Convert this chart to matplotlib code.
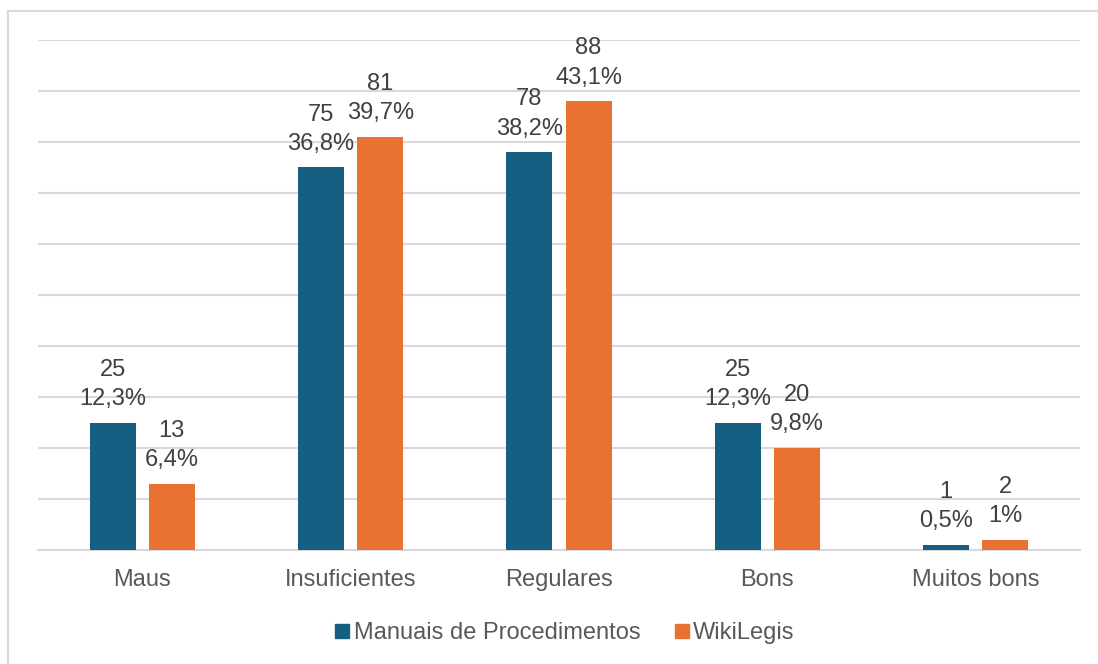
import matplotlib.pyplot as plt
import numpy as np
from matplotlib.lines import Line2D

# ── Data ─────────────────────────────────────────────────────────
categories = ["Maus", "Insuficientes", "Regulares", "Bons", "Muitos bons"]
manuais = [25, 75, 78, 25, 1]
manuais_pct = ["12,3%", "36,8%", "38,2%", "12,3%", "0,5%"]
wikilegis = [13, 81, 88, 20, 2]
wikilegis_pct = ["6,4%", "39,7%", "43,1%", "9,8%", "1%"]
series_names = ["Manuais de Procedimentos", "WikiLegis"]

# ── Style ────────────────────────────────────────────────────────
BLUE = "#156082"
ORANGE = "#E97132"
GRID = "#D9D9D9"
TICK_TXT = "#595959"
LABEL_TXT = "#404040"
FONT = "Liberation Sans"
FS = 17

plt.rcParams["font.family"] = [FONT, "DejaVu Sans"]

W, H = 1098, 664
fig = plt.figure(figsize=(W / 100, H / 100), dpi=100)
ax = fig.add_axes([38 / W, 1 - 550 / H, (1080 - 38) / W, (550 - 40) / H])

x = np.arange(len(categories))
bw = 0.22
off = 0.142

b1 = ax.bar(x - off, manuais, bw, color=BLUE, zorder=3)
b2 = ax.bar(x + off, wikilegis, bw, color=ORANGE, zorder=3)

for bars, vals, pcts in [(b1, manuais, manuais_pct), (b2, wikilegis, wikilegis_pct)]:
    for rect, v, p in zip(bars, vals, pcts):
        cx = rect.get_x() + rect.get_width() / 2
        top = rect.get_height()
        ax.annotate(p, (cx, top), xytext=(0, 17), textcoords="offset points",
                    ha="center", va="center", fontsize=FS, color=LABEL_TXT)
        ax.annotate(str(v), (cx, top), xytext=(0, 38), textcoords="offset points",
                    ha="center", va="center", fontsize=FS, color=LABEL_TXT)

ax.set_xlim(-0.5, len(categories) - 0.5)
ax.set_ylim(0, 100)
ax.set_yticks(np.arange(0, 101, 10))
ax.yaxis.grid(True, color=GRID, linewidth=1.5, zorder=0)
ax.tick_params(axis="y", left=False, labelleft=False)
ax.set_xticks(x)
ax.set_xticklabels(categories, fontsize=FS, color=TICK_TXT)
ax.tick_params(axis="x", length=0, pad=14)
for s in ["top", "right", "left"]:
    ax.spines[s].set_visible(False)
ax.spines["bottom"].set_color(GRID)
ax.spines["bottom"].set_linewidth(1.5)
ax.set_axisbelow(True)

handles = [
    Line2D([], [], marker="s", linestyle="none", markersize=10, color=BLUE),
    Line2D([], [], marker="s", linestyle="none", markersize=10, color=ORANGE),
]
fig.legend(handles, series_names, loc="center", bbox_to_anchor=(563 / W, 1 - 633 / H),
           ncol=2, frameon=False, fontsize=FS, labelcolor=TICK_TXT,
           handletextpad=0.05, columnspacing=1.3, handlelength=0.9)

# chart border (top and left visible)
fig.add_artist(Line2D([8 / W, 1], [1 - 11 / H, 1 - 11 / H], color=GRID, linewidth=1.5))
fig.add_artist(Line2D([8 / W, 8 / W], [0, 1 - 11 / H], color=GRID, linewidth=1.5))

fig.savefig("out.png", dpi=100)
